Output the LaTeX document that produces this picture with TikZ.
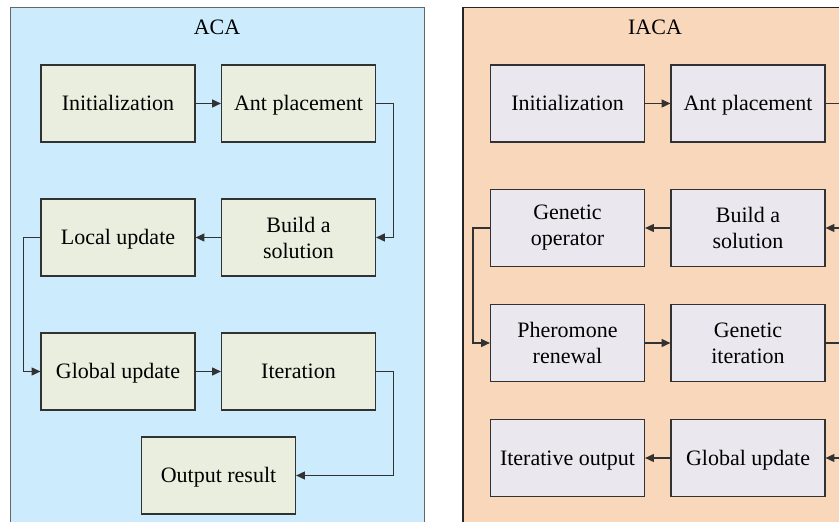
\documentclass[tikz,border=0pt]{standalone}
\usepackage{fontspec}
\setmainfont{Liberation Serif}
\usetikzlibrary{arrows.meta, positioning}
\definecolor{acablue}{RGB}{204,235,253}
\definecolor{acabox}{RGB}{233,238,222}
\definecolor{iacapeach}{RGB}{249,215,186}
\definecolor{iacabox}{RGB}{234,231,239}
\definecolor{linegrey}{RGB}{50,50,50}

\begin{document}
\begin{tikzpicture}[x=0.5pt, y=-0.5pt, font=\fontsize{11}{13}\selectfont,
    stage/.style={draw=linegrey, line width=0.6pt, minimum width=77pt, minimum height=38.5pt, align=center, inner sep=0pt},
    oneline/.style={stage, text height=7.4pt, text depth=0pt},
    flow/.style={draw=linegrey, line width=0.6pt, -{Triangle[length=4.4pt, width=4pt]}}]
    \clip (0,0) rectangle (839,522);
    \useasboundingbox (0,0) rectangle (839,522);
    \fill[white] (0,0) rectangle (839,522);

    % the two panels
    \draw[fill=acablue, draw=gray!80!black, line width=0.5pt] (10,7.5) rectangle (424.5,540);
    \draw[fill=iacapeach, draw=black!85, line width=0.7pt] (463,7.5) rectangle (880,540);
    \node[text height=7.4pt, text depth=0pt] (acatitle) at (217,27) {ACA};
    \node[text height=7.4pt, text depth=0pt] (iacatitle) at (655,27) {IACA};

    % ACA
    \node[oneline, fill=acabox] (ainit) at (118,103.5) {Initialization};
    \node[oneline, fill=acabox] (aant) at (298.5,103.5) {Ant placement};
    \node[oneline, fill=acabox] (alocal) at (118,237.5) {Local update};
    \node[stage, fill=acabox] (abuild) at (298.5,237.5) {Build a\\solution};
    \node[oneline, fill=acabox] (aglobal) at (118,371.5) {Global update};
    \node[oneline, fill=acabox] (aiter) at (298.5,371.5) {Iteration};
    \node[oneline, fill=acabox] (aout) at (218.5,475.5) {Output result};

    \draw[flow] (ainit) -- (aant);
    \draw[flow] (aant.east) -- ++(17,0) |- (abuild.east);
    \draw[flow] (abuild) -- (alocal);
    \draw[flow] (alocal.west) -- ++(-17,0) |- (aglobal.west);
    \draw[flow] (aglobal) -- (aiter);
    \draw[flow] (aiter.east) -- ++(17,0) |- (aout.east);

    % IACA
    \node[oneline, fill=iacabox] (binit) at (567.5,103.5) {Initialization};
    \node[oneline, fill=iacabox] (bant) at (748,103.5) {Ant placement};
    \node[stage, fill=iacabox] (bgenop) at (567.5,228) {Genetic\\operator};
    \node[stage, fill=iacabox] (bbuild) at (748,228) {Build a\\solution};
    \node[stage, fill=iacabox] (bphero) at (567.5,343) {Pheromone\\renewal};
    \node[stage, fill=iacabox] (bgeniter) at (748,343) {Genetic\\iteration};
    \node[oneline, fill=iacabox] (bout) at (567.5,458) {Iterative output};
    \node[oneline, fill=iacabox] (bglobal) at (748,458) {Global update};

    \draw[flow] (binit) -- (bant);
    \draw[flow] (bant.east) -- ++(25,0) |- (bbuild.east);
    \draw[flow] (bbuild) -- (bgenop);
    \draw[flow] (bgenop.west) -- ++(-17,0) |- (bphero.west);
    \draw[flow] (bphero) -- (bgeniter);
    \draw[flow] (bgeniter.east) -- ++(25,0) |- (bglobal.east);
    \draw[flow] (bglobal) -- (bout);
\end{tikzpicture}
\end{document}
